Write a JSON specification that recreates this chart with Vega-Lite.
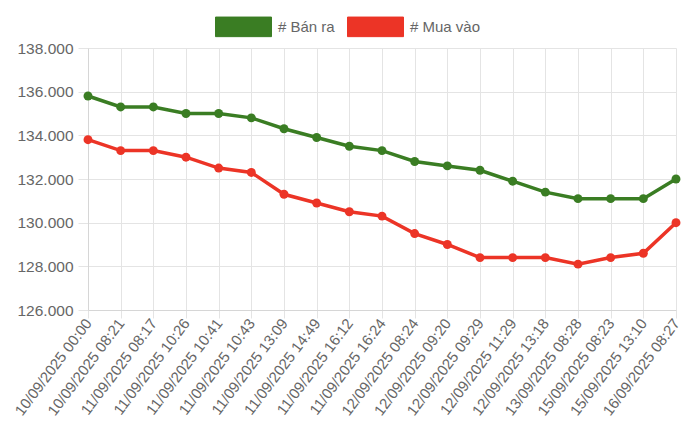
{
  "$schema": "https://vega.github.io/schema/vega-lite/v6.json",
  "autosize": {"type": "none"},
  "width": 588,
  "height": 262,
  "padding": {"left": 88, "top": 48, "right": 24, "bottom": 128},
  "background": "white",
  "config": {
    "font": "Liberation Sans",
    "view": {"stroke": null}
  },
  "data": {
    "values": [
      {"time": "10/09/2025 00:00", "series": "# Bán ra", "price": 135800},
      {"time": "10/09/2025 08:21", "series": "# Bán ra", "price": 135300},
      {"time": "11/09/2025 08:17", "series": "# Bán ra", "price": 135300},
      {"time": "11/09/2025 10:26", "series": "# Bán ra", "price": 135000},
      {"time": "11/09/2025 10:41", "series": "# Bán ra", "price": 135000},
      {"time": "11/09/2025 10:43", "series": "# Bán ra", "price": 134800},
      {"time": "11/09/2025 13:09", "series": "# Bán ra", "price": 134300},
      {"time": "11/09/2025 14:49", "series": "# Bán ra", "price": 133900},
      {"time": "11/09/2025 16:12", "series": "# Bán ra", "price": 133500},
      {"time": "11/09/2025 16:24", "series": "# Bán ra", "price": 133300},
      {"time": "12/09/2025 08:24", "series": "# Bán ra", "price": 132800},
      {"time": "12/09/2025 09:20", "series": "# Bán ra", "price": 132600},
      {"time": "12/09/2025 09:29", "series": "# Bán ra", "price": 132400},
      {"time": "12/09/2025 11:29", "series": "# Bán ra", "price": 131900},
      {"time": "12/09/2025 13:18", "series": "# Bán ra", "price": 131400},
      {"time": "13/09/2025 08:28", "series": "# Bán ra", "price": 131100},
      {"time": "15/09/2025 08:23", "series": "# Bán ra", "price": 131100},
      {"time": "15/09/2025 13:10", "series": "# Bán ra", "price": 131100},
      {"time": "16/09/2025 08:27", "series": "# Bán ra", "price": 132000},
      {"time": "10/09/2025 00:00", "series": "# Mua vào", "price": 133800},
      {"time": "10/09/2025 08:21", "series": "# Mua vào", "price": 133300},
      {"time": "11/09/2025 08:17", "series": "# Mua vào", "price": 133300},
      {"time": "11/09/2025 10:26", "series": "# Mua vào", "price": 133000},
      {"time": "11/09/2025 10:41", "series": "# Mua vào", "price": 132500},
      {"time": "11/09/2025 10:43", "series": "# Mua vào", "price": 132300},
      {"time": "11/09/2025 13:09", "series": "# Mua vào", "price": 131300},
      {"time": "11/09/2025 14:49", "series": "# Mua vào", "price": 130900},
      {"time": "11/09/2025 16:12", "series": "# Mua vào", "price": 130500},
      {"time": "11/09/2025 16:24", "series": "# Mua vào", "price": 130300},
      {"time": "12/09/2025 08:24", "series": "# Mua vào", "price": 129500},
      {"time": "12/09/2025 09:20", "series": "# Mua vào", "price": 129000},
      {"time": "12/09/2025 09:29", "series": "# Mua vào", "price": 128400},
      {"time": "12/09/2025 11:29", "series": "# Mua vào", "price": 128400},
      {"time": "12/09/2025 13:18", "series": "# Mua vào", "price": 128400},
      {"time": "13/09/2025 08:28", "series": "# Mua vào", "price": 128100},
      {"time": "15/09/2025 08:23", "series": "# Mua vào", "price": 128400},
      {"time": "15/09/2025 13:10", "series": "# Mua vào", "price": 128600},
      {"time": "16/09/2025 08:27", "series": "# Mua vào", "price": 130000}
    ]
  },
  "mark": {
    "type": "line",
    "strokeWidth": 3.5,
    "point": {"filled": true, "size": 80, "opacity": 1}
  },
  "encoding": {
    "x": {
      "field": "time",
      "type": "ordinal",
      "sort": null,
      "title": null,
      "scale": {"type": "point", "padding": 0},
      "axis": {
        "labelAngle": -53,
        "labelAlign": "right",
        "labelBaseline": "middle",
        "labelFontSize": 15,
        "labelColor": "#666666",
        "labelPadding": 2,
        "tickSize": 8,
        "tickColor": "#e4e4e4",
        "gridColor": "#e4e4e4",
        "grid": true,
        "domainColor": "#d6d6d6"
      }
    },
    "y": {
      "field": "price",
      "type": "quantitative",
      "title": null,
      "scale": {"domain": [126000, 138000], "nice": false, "zero": false},
      "axis": {
        "values": [126000, 128000, 130000, 132000, 134000, 136000, 138000],
        "labelExpr": "replace(format(datum.value, ','), ',', '.')",
        "labelFontSize": 15.5,
        "labelColor": "#666666",
        "labelPadding": 5,
        "tickSize": 10,
        "tickColor": "#e4e4e4",
        "gridColor": "#e4e4e4",
        "domainColor": "#d6d6d6"
      }
    },
    "color": {
      "field": "series",
      "type": "nominal",
      "title": null,
      "scale": {"domain": ["# Bán ra", "# Mua vào"], "range": ["#3a7d23", "#ec3426"]},
      "legend": {
        "orient": "none",
        "direction": "horizontal",
        "legendX": 127,
        "legendY": -50,
        "symbolType": "M-1,-0.35H1V0.35H-1Z",
        "symbolSize": 3136,
        "symbolStrokeWidth": 1,
        "labelFontSize": 15,
        "labelColor": "#666666",
        "labelOffset": 6,
        "columnPadding": 10,
        "encode": {
          "symbols": {
            "update": {
              "fill": {"scale": "color", "field": "value"},
              "fillOpacity": {"value": 1},
              "opacity": {"value": 1}
            }
          }
        }
      }
    }
  }
}
